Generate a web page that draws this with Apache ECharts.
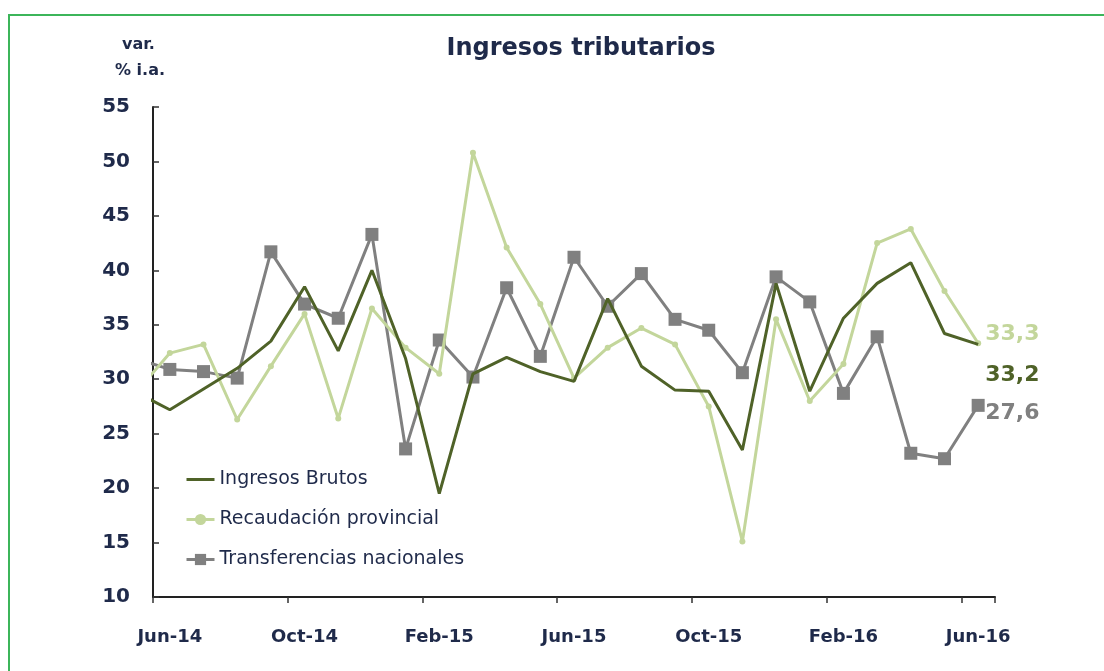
<!DOCTYPE html>
<html>
<head>
<meta charset="utf-8">
<script src="https://cdn.jsdelivr.net/npm/echarts@6/dist/echarts.min.js"></script>
<style>
  html, body { margin: 0; padding: 0; background: #fff; }
  #chart { width: 1104px; height: 671px; }
</style>
</head>
<body>
<div id="chart"></div>
<script>
// months shown on the axis (Jun-14 .. Jun-16)
const months = ['Jun-14','Jul-14','Aug-14','Sep-14','Oct-14','Nov-14','Dec-14','Jan-15','Feb-15','Mar-15','Apr-15','May-15',
  'Jun-15','Jul-15','Aug-15','Sep-15','Oct-15','Nov-15','Dec-15','Jan-16','Feb-16','Mar-16','Apr-16','May-16','Jun-16']

// value of May-14, only its segment into the plot is visible (clipped at the axis)
const priorBrutos = 28.8
const priorRecaud = 28.8
const priorTransf = 31.9

const brutos = [27.2, 29.1, 31.0, 33.5, 38.5, 32.6, 40.0, 31.9, 19.5, 30.5, 32.0, 30.7,
  29.8, 37.4, 31.2, 29.0, 28.9, 23.5, 38.8, 28.9, 35.6, 38.8, 40.7, 34.2, 33.2]
const recaud = [32.4, 33.2, 26.3, 31.2, 36.0, 26.4, 36.5, 32.9, 30.5, 50.8, 42.1, 36.9,
  30.1, 32.9, 34.7, 33.2, 27.5, 15.1, 35.5, 28.0, 31.4, 42.5, 43.8, 38.1, 33.3]
const transf = [30.9, 30.7, 30.1, 41.7, 36.9, 35.6, 43.3, 23.6, 33.6, 30.2, 38.4, 32.1,
  41.2, 36.7, 39.7, 35.5, 34.5, 30.6, 39.4, 37.1, 28.7, 33.9, 23.2, 22.7, 27.6]

const names = ['Ingresos Brutos', 'Recaudación provincial', 'Transferencias nacionales']
const colors = ['#4f6228', '#c3d69b', '#808080']
const navy = '#1f2a4a'
const font = 'DejaVu Sans'

// [index, value] pairs, starting with the clipped May-14 point
function points(prior, vals) {
  let out = [[-1, prior]]
  vals.map((v, i) => out.push([i, v]))
  return out
}

function endLabel(color, offset) {
  return {
    show: true,
    distance: 7,
    offset: offset,
    color: color,
    fontFamily: font,
    fontWeight: 'bold',
    fontSize: 22,
    formatter: (p) => p.value[1].toFixed(1).replace('.', ',')
  }
}

const chart = echarts.init(document.getElementById('chart'))

chart.setOption({
  animation: false,
  title: {
    text: 'Ingresos tributarios',
    left: 576,
    textAlign: 'center',
    top: 32,
    textStyle: { fontFamily: font, fontWeight: 'bold', fontSize: 24, color: navy }
  },
  graphic: [
    {
      type: 'rect',
      shape: { x: 9, y: 15, width: 1120, height: 700 },
      style: { fill: 'none', stroke: '#3cb55a', lineWidth: 2 },
      silent: true
    },
    {
      type: 'text',
      left: 122, top: 37,
      style: { text: 'var.', font: 'bold 16px "DejaVu Sans"', fill: navy }
    },
    {
      type: 'text',
      left: 115, top: 63,
      style: { text: '% i.a.', font: 'bold 16px "DejaVu Sans"', fill: navy }
    }
  ],
  grid: { left: 153, right: 109, top: 107, bottom: 74 },
  legend: {
    orient: 'vertical',
    left: 185,
    top: 470,
    padding: 0,
    itemGap: 21,
    itemWidth: 28,
    itemHeight: 14,
    lineStyle: { width: 3 },
    textStyle: { fontFamily: font, fontSize: 19, color: navy },
    data: [
      { name: names[0], itemStyle: { opacity: 0 } },
      { name: names[1] },
      { name: names[2] }
    ]
  },
  xAxis: [
    {
      type: 'category',
      data: months,
      boundaryGap: true,
      axisLine: { show: true, lineStyle: { color: '#222', width: 2 } },
      axisTick: { show: true, interval: 3, length: 6, lineStyle: { color: '#333', width: 1.5 } },
      axisLabel: {
        interval: 3,
        margin: 31,
        fontFamily: font,
        fontWeight: 'bold',
        fontSize: 18,
        color: navy
      }
    },
    {
      type: 'value',
      min: -0.5,
      max: 24.5,
      show: false
    }
  ],
  yAxis: {
    type: 'value',
    min: 10,
    max: 55,
    interval: 5,
    splitLine: { show: false },
    axisLine: { show: true, onZero: false, lineStyle: { color: '#222', width: 2 } },
    axisTick: { show: true, inside: true, length: 6, lineStyle: { color: '#333', width: 1.5 } },
    axisLabel: { margin: 23, fontFamily: font, fontWeight: 'bold', fontSize: 20, color: navy }
  },
  series: [
    {
      name: names[0],
      type: 'line',
      xAxisIndex: 1,
      clip: true,
      data: points(priorBrutos, brutos),
      color: colors[0],
      symbol: 'none',
      lineStyle: { color: colors[0], width: 3 },
      endLabel: endLabel(colors[0], [0, 31]),
      z: 3
    },
    {
      name: names[1],
      type: 'line',
      xAxisIndex: 1,
      clip: true,
      data: points(priorRecaud, recaud),
      color: colors[1],
      symbol: 'circle',
      symbolSize: 6,
      itemStyle: { color: colors[1] },
      lineStyle: { color: colors[1], width: 3 },
      endLabel: endLabel(colors[1], [0, -9]),
      z: 2
    },
    {
      name: names[2],
      type: 'line',
      xAxisIndex: 1,
      clip: true,
      data: points(priorTransf, transf),
      color: colors[2],
      symbol: 'rect',
      symbolSize: 13,
      itemStyle: { color: colors[2] },
      lineStyle: { color: colors[2], width: 3 },
      endLabel: endLabel(colors[2], [0, 8]),
      z: 1
    }
  ]
})
</script>
</body>
</html>
